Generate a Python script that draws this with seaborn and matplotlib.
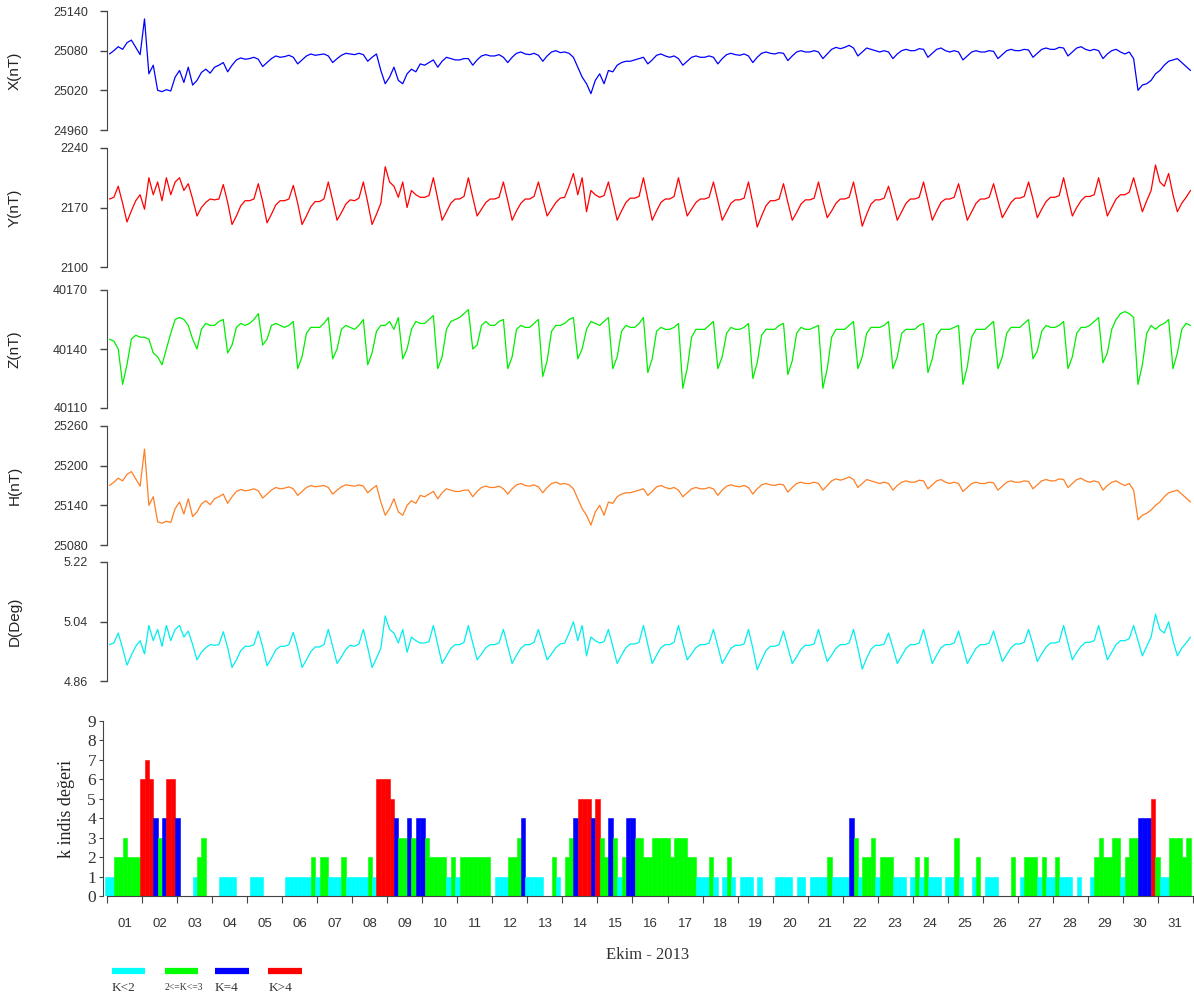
import numpy as np
import pandas as pd
import seaborn as sns
import matplotlib.pyplot as plt
from matplotlib.lines import Line2D

# Ekim 2013 - 3 saatlik degerler (her satir bir gun: 01:30, 04:30, ... 22:30)
x_nt = [
    25075, 25080, 25086, 25082, 25092, 25096, 25085, 25074,
    25128, 25045, 25058, 25020, 25018, 25021, 25019, 25040,
    25050, 25032, 25055, 25028, 25035, 25047, 25052, 25046,
    25055, 25058, 25062, 25048, 25058, 25066, 25069, 25067,
    25068, 25070, 25067, 25056, 25062, 25068, 25072, 25070,
    25071, 25073, 25070, 25060, 25066, 25072, 25075, 25073,
    25074, 25075, 25072, 25062, 25068, 25073, 25076, 25075,
    25074, 25076, 25074, 25064, 25070, 25075, 25050, 25030,
    25040, 25055, 25035, 25030, 25045, 25052, 25048, 25060,
    25058, 25062, 25066, 25055, 25064, 25070, 25068, 25066,
    25066, 25068, 25068, 25058, 25066, 25072, 25074, 25072,
    25072, 25074, 25070, 25062, 25070, 25076, 25078, 25075,
    25074, 25076, 25073, 25064, 25072, 25078, 25080, 25077,
    25078, 25076, 25070, 25055, 25040, 25030, 25015, 25035,
    25045, 25030, 25050, 25048, 25058, 25062, 25064, 25064,
    25066, 25068, 25070, 25060, 25066, 25073, 25075, 25072,
    25070, 25072, 25068, 25058, 25064, 25070, 25072, 25070,
    25070, 25072, 25070, 25060, 25068, 25074, 25076, 25074,
    25073, 25075, 25072, 25062, 25070, 25076, 25078, 25076,
    25075, 25077, 25076, 25065, 25072, 25078, 25080, 25078,
    25078, 25080, 25078, 25068, 25075, 25082, 25085, 25083,
    25085, 25088, 25084, 25072, 25078, 25084, 25082, 25080,
    25078, 25080, 25078, 25068, 25075, 25080, 25082, 25080,
    25080, 25083, 25082, 25070, 25076, 25082, 25084, 25080,
    25078, 25080, 25078, 25066, 25072, 25078, 25080, 25078,
    25078, 25080, 25079, 25068, 25074, 25080, 25082, 25080,
    25080, 25082, 25081, 25070, 25076, 25082, 25084, 25082,
    25082, 25085, 25084, 25072, 25078, 25084, 25086, 25082,
    25080, 25082, 25080, 25068, 25075, 25080, 25082, 25078,
    25075, 25078, 25068, 25020, 25028, 25030, 25035, 25045,
    25050, 25058, 25064, 25066, 25068, 25062, 25056, 25050,
]

y_nt = [
    2180, 2182, 2195, 2175, 2153, 2166, 2178, 2185,
    2168, 2205, 2185, 2200, 2178, 2205, 2185, 2200,
    2205, 2190, 2198, 2180, 2160, 2170, 2176, 2180,
    2179, 2180, 2197, 2176, 2150, 2160, 2172, 2178,
    2178, 2180, 2198, 2177, 2152, 2162, 2173, 2178,
    2178, 2180, 2196, 2175, 2150, 2160, 2171, 2177,
    2177, 2180, 2200, 2178, 2155, 2164, 2174, 2179,
    2178, 2181, 2200, 2176, 2150, 2162, 2175, 2218,
    2200, 2195, 2182, 2200, 2170, 2190, 2185, 2182,
    2182, 2184, 2205, 2180, 2155, 2165, 2175, 2180,
    2180, 2183, 2205, 2182, 2160, 2168, 2176, 2180,
    2180, 2182, 2200, 2178, 2155, 2166, 2175, 2180,
    2180, 2183, 2200, 2180, 2160, 2168, 2176, 2181,
    2182, 2195, 2210, 2185, 2205, 2165, 2190, 2185,
    2182, 2184, 2200, 2178, 2155, 2166, 2176, 2181,
    2181, 2183, 2205, 2180, 2155, 2166, 2176, 2180,
    2180, 2183, 2205, 2182, 2160, 2168, 2176, 2180,
    2180, 2182, 2200, 2178, 2155, 2165, 2175, 2179,
    2179, 2181, 2200, 2175, 2147, 2160, 2172, 2178,
    2178, 2180, 2198, 2176, 2155, 2164, 2174, 2179,
    2179, 2181, 2200, 2178, 2158, 2166, 2175, 2180,
    2180, 2182, 2200, 2175, 2148, 2162, 2174, 2179,
    2179, 2181, 2195, 2176, 2155, 2165, 2175, 2180,
    2180, 2182, 2200, 2178, 2155, 2166, 2176, 2180,
    2180, 2182, 2198, 2177, 2155, 2165, 2175, 2180,
    2180, 2182, 2198, 2178, 2158, 2167, 2176, 2181,
    2181, 2183, 2200, 2180, 2158, 2168, 2177, 2182,
    2182, 2184, 2205, 2182, 2160, 2170, 2178, 2183,
    2183, 2185, 2205, 2183, 2160, 2170, 2180, 2185,
    2185, 2188, 2205, 2185, 2165, 2178, 2190, 2220,
    2200, 2195, 2210, 2185, 2165, 2175, 2182, 2190,
]

z_nt = [
    40145, 40144, 40140, 40122, 40132, 40145, 40147, 40146,
    40146, 40145, 40138, 40136, 40132, 40140, 40148, 40155,
    40156, 40155, 40152, 40145, 40140, 40150, 40153, 40152,
    40152, 40154, 40155, 40138, 40142, 40151, 40153, 40152,
    40153, 40155, 40158, 40142, 40145, 40152, 40153, 40152,
    40151, 40152, 40154, 40130, 40136, 40148, 40151, 40151,
    40151, 40153, 40156, 40135, 40140, 40150, 40152, 40151,
    40150, 40152, 40155, 40132, 40138, 40149, 40152, 40152,
    40154, 40150, 40156, 40135, 40140, 40150, 40154, 40153,
    40153, 40155, 40157, 40130, 40136, 40150, 40154, 40155,
    40156, 40158, 40160, 40140, 40142, 40152, 40154, 40152,
    40152, 40154, 40155, 40130, 40136, 40150, 40152, 40151,
    40151, 40153, 40155, 40126, 40134, 40149, 40152, 40152,
    40153, 40155, 40156, 40135, 40140, 40150, 40154, 40153,
    40152, 40154, 40156, 40130, 40136, 40149, 40152, 40151,
    40151, 40153, 40156, 40128, 40135, 40149, 40151, 40150,
    40150, 40151, 40153, 40120, 40130, 40146, 40150, 40150,
    40150, 40152, 40154, 40130, 40136, 40148, 40151, 40150,
    40150, 40151, 40153, 40125, 40133, 40147, 40150, 40150,
    40150, 40152, 40153, 40127, 40134, 40148, 40151, 40150,
    40150, 40151, 40152, 40120, 40130, 40146, 40150, 40150,
    40150, 40152, 40154, 40130, 40136, 40148, 40151, 40151,
    40151, 40152, 40154, 40130, 40136, 40148, 40150, 40150,
    40150, 40152, 40153, 40128, 40135, 40147, 40150, 40150,
    40150, 40151, 40152, 40122, 40131, 40146, 40150, 40150,
    40150, 40152, 40154, 40130, 40136, 40148, 40151, 40151,
    40151, 40153, 40155, 40135, 40139, 40149, 40152, 40151,
    40151, 40152, 40154, 40130, 40136, 40148, 40151, 40151,
    40152, 40154, 40156, 40133, 40138, 40150, 40155, 40158,
    40159, 40158, 40156, 40122, 40132, 40148, 40152, 40150,
    40152, 40153, 40155, 40130, 40138, 40150, 40153, 40152,
]

h_nt = [
    25170, 25175, 25181, 25177, 25187, 25191, 25180, 25169,
    25225, 25140, 25153, 25115, 25113, 25116, 25114, 25135,
    25145, 25127, 25150, 25123, 25130, 25142, 25147, 25141,
    25150, 25153, 25157, 25143, 25153, 25161, 25164, 25162,
    25163, 25165, 25162, 25151, 25157, 25163, 25167, 25165,
    25166, 25168, 25165, 25155, 25161, 25167, 25170, 25168,
    25169, 25170, 25167, 25157, 25163, 25168, 25171, 25170,
    25169, 25171, 25169, 25159, 25165, 25170, 25145, 25125,
    25135, 25150, 25130, 25125, 25140, 25147, 25143, 25155,
    25153, 25157, 25161, 25150, 25159, 25165, 25163, 25161,
    25161, 25163, 25163, 25153, 25161, 25167, 25169, 25167,
    25167, 25169, 25165, 25157, 25165, 25171, 25173, 25170,
    25169, 25171, 25168, 25159, 25167, 25173, 25175, 25172,
    25173, 25171, 25165, 25150, 25135, 25125, 25110, 25130,
    25140, 25125, 25145, 25143, 25153, 25157, 25159, 25159,
    25161, 25163, 25165, 25155, 25161, 25168, 25170, 25167,
    25165, 25167, 25163, 25153, 25159, 25165, 25167, 25165,
    25165, 25167, 25165, 25155, 25163, 25169, 25171, 25169,
    25168, 25170, 25167, 25157, 25165, 25171, 25173, 25171,
    25170, 25172, 25171, 25160, 25167, 25173, 25175, 25173,
    25173, 25175, 25173, 25163, 25170, 25177, 25180, 25178,
    25180, 25183, 25179, 25167, 25173, 25179, 25177, 25175,
    25173, 25175, 25173, 25163, 25170, 25175, 25177, 25175,
    25175, 25178, 25177, 25165, 25171, 25177, 25179, 25175,
    25173, 25175, 25173, 25161, 25167, 25173, 25175, 25173,
    25173, 25175, 25174, 25163, 25169, 25175, 25177, 25175,
    25175, 25177, 25176, 25165, 25171, 25177, 25179, 25177,
    25177, 25180, 25179, 25167, 25173, 25179, 25181, 25177,
    25175, 25177, 25175, 25163, 25170, 25175, 25177, 25173,
    25170, 25173, 25163, 25118, 25125, 25128, 25133, 25140,
    25145, 25153, 25159, 25161, 25163, 25157, 25151, 25145,
]

d_deg = [
    4.970, 4.975, 5.005, 4.959, 4.908, 4.938, 4.965, 4.982,
    4.942, 5.028, 4.982, 5.016, 4.965, 5.028, 4.982, 5.016,
    5.028, 4.993, 5.011, 4.970, 4.924, 4.947, 4.961, 4.970,
    4.968, 4.970, 5.009, 4.961, 4.901, 4.924, 4.952, 4.965,
    4.965, 4.970, 5.011, 4.963, 4.906, 4.929, 4.954, 4.965,
    4.965, 4.970, 5.007, 4.959, 4.901, 4.924, 4.949, 4.963,
    4.963, 4.970, 5.016, 4.965, 4.913, 4.933, 4.956, 4.968,
    4.965, 4.972, 5.016, 4.961, 4.901, 4.929, 4.959, 5.057,
    5.016, 5.005, 4.975, 5.016, 4.947, 4.993, 4.982, 4.975,
    4.975, 4.979, 5.028, 4.970, 4.913, 4.936, 4.959, 4.970,
    4.970, 4.977, 5.028, 4.975, 4.924, 4.942, 4.961, 4.970,
    4.970, 4.975, 5.016, 4.965, 4.913, 4.938, 4.959, 4.970,
    4.970, 4.977, 5.016, 4.970, 4.924, 4.942, 4.961, 4.972,
    4.975, 5.005, 5.039, 4.982, 5.028, 4.936, 4.993, 4.982,
    4.975, 4.979, 5.016, 4.965, 4.913, 4.938, 4.961, 4.972,
    4.972, 4.977, 5.028, 4.970, 4.913, 4.938, 4.961, 4.970,
    4.970, 4.977, 5.028, 4.975, 4.924, 4.942, 4.961, 4.970,
    4.970, 4.975, 5.016, 4.965, 4.913, 4.936, 4.959, 4.968,
    4.968, 4.972, 5.016, 4.959, 4.894, 4.924, 4.952, 4.965,
    4.965, 4.970, 5.011, 4.961, 4.913, 4.933, 4.956, 4.968,
    4.968, 4.972, 5.016, 4.965, 4.919, 4.938, 4.959, 4.970,
    4.970, 4.975, 5.016, 4.959, 4.896, 4.929, 4.956, 4.968,
    4.968, 4.972, 5.005, 4.961, 4.913, 4.936, 4.959, 4.970,
    4.970, 4.975, 5.016, 4.965, 4.913, 4.938, 4.961, 4.970,
    4.970, 4.975, 5.011, 4.963, 4.913, 4.936, 4.959, 4.970,
    4.970, 4.975, 5.011, 4.965, 4.919, 4.940, 4.961, 4.972,
    4.972, 4.977, 5.016, 4.970, 4.919, 4.942, 4.963, 4.975,
    4.975, 4.979, 5.028, 4.975, 4.924, 4.947, 4.965, 4.977,
    4.977, 4.982, 5.028, 4.977, 4.924, 4.947, 4.970, 4.982,
    4.982, 4.988, 5.028, 4.982, 4.936, 4.965, 4.993, 5.062,
    5.016, 5.005, 5.039, 4.982, 4.936, 4.959, 4.975, 4.993,
]

# K indisi, 3 saatlik (her satir bir gun)
k_index = [
    1, 1, 2, 2, 3, 2, 2, 2,
    6, 7, 6, 4, 3, 4, 6, 6,
    4, 0, 0, 0, 1, 2, 3, 0,
    0, 0, 1, 1, 1, 1, 0, 0,
    0, 1, 1, 1, 0, 0, 0, 0,
    0, 1, 1, 1, 1, 1, 1, 2,
    1, 2, 2, 1, 1, 1, 2, 1,
    1, 1, 1, 1, 2, 1, 6, 6,
    6, 5, 4, 3, 3, 4, 3, 4,
    4, 3, 2, 2, 2, 2, 1, 2,
    1, 2, 2, 2, 2, 2, 2, 2,
    0, 1, 1, 1, 2, 2, 3, 4,
    1, 1, 1, 1, 0, 0, 2, 1,
    0, 2, 3, 4, 5, 5, 5, 4,
    5, 3, 2, 4, 3, 1, 2, 4,
    4, 3, 3, 2, 2, 3, 3, 3,
    3, 2, 3, 3, 3, 2, 2, 1,
    1, 1, 2, 1, 0, 1, 2, 1,
    0, 1, 1, 1, 0, 1, 0, 0,
    0, 1, 1, 1, 1, 0, 1, 1,
    0, 1, 1, 1, 1, 2, 1, 1,
    1, 1, 4, 3, 1, 2, 2, 3,
    1, 2, 2, 2, 1, 1, 1, 0,
    1, 2, 1, 2, 1, 1, 1, 0,
    1, 1, 3, 1, 0, 0, 1, 2,
    0, 1, 1, 1, 0, 0, 0, 2,
    0, 1, 2, 2, 2, 1, 2, 1,
    1, 2, 1, 1, 1, 0, 1, 0,
    0, 1, 2, 3, 2, 2, 3, 3,
    1, 2, 3, 3, 4, 4, 4, 5,
    2, 1, 1, 3, 3, 3, 2, 3,
]

day_labels = ['%02d' % d for d in range(1, 32)]
k_classes = ['K<2', '2<=K<=3', 'K=4', 'K>4']
k_colors = ['#00FFFF', '#00FF00', '#0000FF', '#FF0000']

sns.set_style('ticks')
plt.rcParams['font.family'] = ['Liberation Sans', 'DejaVu Sans']
serif = ['Liberation Serif', 'DejaVu Serif']
axis_col = '#444444'

W, H = 1194, 1000
fig = plt.figure(figsize=(W / 100, H / 100), dpi=100)


def add_ax(left, right, top, bottom):
    return fig.add_axes([left / W, 1 - bottom / H, (right - left) / W, (bottom - top) / H])


t = np.arange(len(x_nt)) * 3 + 1.5
panels = [
    ('X(nT)', x_nt, '#0000FF', [24960, 25020, 25080, 25140], 11, 130),
    ('Y(nT)', y_nt, '#FF0000', [2100, 2170, 2240], 148, 267),
    ('Z(nT)', z_nt, '#00EE00', [40110, 40140, 40170], 290, 408),
    ('H(nT)', h_nt, '#FF7F24', [25080, 25140, 25200, 25260], 426, 545),
    ('D(Deg)', d_deg, '#00EEEE', [4.86, 5.04, 5.22], 562, 681),
]

for label, vals, col, ticks, top, bottom in panels:
    ax = add_ax(107.3, 1192.7, top, bottom)
    df = pd.DataFrame({'saat': t, 'deger': vals})
    sns.lineplot(data=df, x='saat', y='deger', color=col, lw=0.9, ax=ax)
    ax.set_xlim(0, 744)
    ax.set_ylim(ticks[0], ticks[-1])
    sns.despine(ax=ax, bottom=True)
    ax.set_xticks([])
    ax.set_yticks(ticks)
    ax.set_yticklabels([('%g' % v) if v > 100 else ('%.2f' % v) for v in ticks])
    ax.tick_params(axis='y', length=5, width=1, color=axis_col, labelcolor='#333333',
                   labelsize=9, pad=9)
    ax.spines['left'].set_color(axis_col)
    ax.set_xlabel('')
    ax.set_ylabel(label, fontsize=11, color='#222222')
    ax.yaxis.set_label_coords(-0.0786, 0.5)

# K indis paneli
axk = add_ax(103, 1192.7, 721, 896)
tk = np.arange(len(k_index)) * 3
kk = np.array(k_index)
cls = np.select([kk < 2, kk <= 3, kk == 4], [0, 1, 2], 3)
face = [k_colors[c] for c in cls]
edge = ['#999999' if v == 0 else k_colors[c] for v, c in zip(kk, cls)]
axk.bar(tk, kk, width=3, color=face, edgecolor=edge, linewidth=0.4)
axk.set_xlim(-2.95, 744)
axk.set_ylim(0, 9)
sns.despine(ax=axk)
axk.spines['left'].set_bounds(0, 9)
axk.spines['bottom'].set_bounds(0, 744)
axk.spines['left'].set_color(axis_col)
axk.spines['bottom'].set_color(axis_col)
axk.set_yticks(range(10))
axk.set_yticklabels([str(i) for i in range(10)], family=serif, fontsize=12.5)
axk.tick_params(axis='y', length=3, color=axis_col, labelcolor='#333333', pad=2)
axk.set_xticks(np.arange(32) * 24)
axk.set_xticklabels([])
axk.set_xticks(np.arange(31) * 24 + 12, minor=True)
axk.set_xticklabels(day_labels, minor=True, fontsize=9.5, color='#333333')
axk.tick_params(axis='x', which='major', length=5, color=axis_col)
axk.tick_params(axis='x', which='minor', length=0, pad=16)
axk.set_ylabel('k indis değeri', family=serif, fontsize=13, color='#222222')
axk.yaxis.set_label_coords(-0.0257, 0.5)
axk.set_xlabel('Ekim - 2013', family=serif, fontsize=12, color='#333333', labelpad=12)

# alt lejant
leg_x = [(111.7, 145), (165, 198.3), (215, 249), (268.3, 301.7)]
leg_sizes = [9.5, 7, 9.5, 9.5]
for (x0, x1), name, col, fs in zip(leg_x, k_classes, k_colors, leg_sizes):
    fig.add_artist(Line2D([x0 / W, x1 / W], [1 - 970.7 / H] * 2, lw=4.5,
                          color=col, solid_capstyle='butt'))
    fig.text(x0 / W, 1 - 988 / H, name, family=serif, fontsize=fs,
             color='#333333', ha='left', va='center')

fig.savefig('out.png', dpi=100)
